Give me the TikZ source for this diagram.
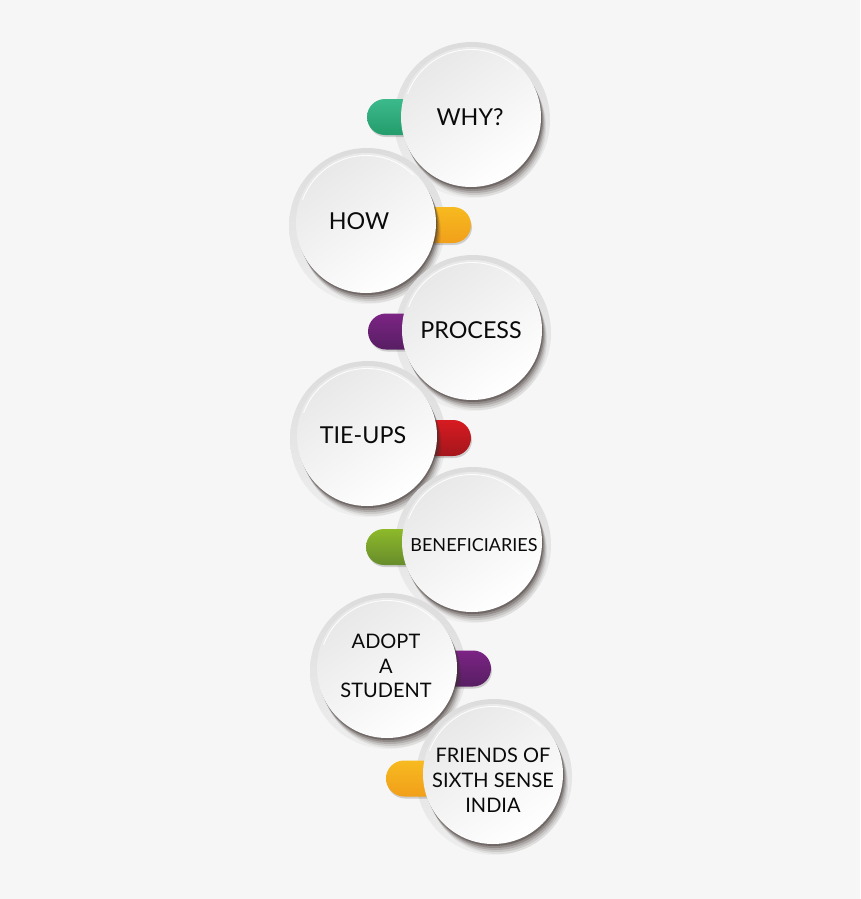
\documentclass[tikz,border=0pt]{standalone}
\usepackage{fontspec}
\setmainfont{Lato}
\definecolor{bg}{HTML}{F6F6F6}
\definecolor{ringA}{HTML}{DCDCDC}
\definecolor{ringB}{HTML}{EEEEEE}
\definecolor{shadowcol}{HTML}{3A302D}
\definecolor{discA}{HTML}{E8E8E8}
\definecolor{discM}{HTML}{FBFBFB}
\definecolor{gT}{HTML}{3CBA8C}\definecolor{gB}{HTML}{249C6C}
\definecolor{oT}{HTML}{F7BA20}\definecolor{oB}{HTML}{F19F1A}
\definecolor{pT}{HTML}{7B2484}\definecolor{pB}{HTML}{571E63}
\definecolor{rT}{HTML}{D61B21}\definecolor{rB}{HTML}{A4161C}
\definecolor{lT}{HTML}{8DB92A}\definecolor{lB}{HTML}{678C2B}
\definecolor{ink}{HTML}{0A0A0A}
\newcommand\mybubble[6]{% name, cx, cy, pill outer x, pill y, colour prefix
  \shade[top color=ringA,bottom color=ringB] (#2+1,#3-3) circle (78);
  \fill[black,opacity=.16,rounded corners=18pt] (#4+1,#5-20) rectangle (#2,#5+15);
  \shade[top color=#6T,bottom color=#6B,rounded corners=18pt] (#4,#5-18) rectangle (#2,#5+18);
  \foreach \k/\o in {5/.08,4/.12,3/.18,2/.26,1/.38}{
    \fill[shadowcol,opacity=\o] (#2+\k,#3-2*\k) circle (70);
  }
  \node[disc] (#1) at (#2,#3) {};
  \draw[white,line width=.9pt,opacity=.9] (#2,#3) ++(160:67.5) arc (160:45:67.5);
}
\tikzset{
  disc/.style={circle,minimum size=140pt,inner sep=0pt,shade,top color=discA,middle color=discM,bottom color=white,shading angle=35},
  lbl/.style={text=ink,inner sep=0pt},
  big/.style={lbl,font=\fontsize{23.3}{28}\selectfont,anchor=base},
  small/.style={lbl,font=\fontsize{20}{24.8}\selectfont,align=center}
}
\begin{document}
\begin{tikzpicture}[x=1pt,y=1pt]
\useasboundingbox (0,0) rectangle (860,-899);
\fill[bg] (0,0) rectangle (860,-899);
\mybubble{why}{471}{-117}{367}{-117}{g}
\node[big] (twhy) at (470,-125) {WHY?};
\mybubble{how}{366}{-223}{471}{-225}{o}
\node[big] (thow) at (359,-229) {HOW};
\mybubble{process}{472}{-330}{368}{-331.5}{p}
\node[big] (tprocess) at (471,-338) {PROCESS};
\mybubble{tieups}{367}{-436}{471}{-438}{r}
\node[big] (ttieups) at (363,-443) {TIE-UPS};
\mybubble{benef}{472}{-542}{366}{-547}{l}
\node[lbl,font=\fontsize{18}{22}\selectfont,anchor=base] (tbenef) at (474,-551) {BENEFICIARIES};
\mybubble{adopt}{387}{-668}{491}{-668.5}{p}
\node[small] (tadopt) at (386,-666) {ADOPT\\A\\STUDENT};
\mybubble{friends}{493}{-774}{386}{-778.5}{o}
\node[small] (tfriends) at (493,-780) {FRIENDS OF\\SIXTH SENSE\\INDIA};
\end{tikzpicture}
\end{document}
